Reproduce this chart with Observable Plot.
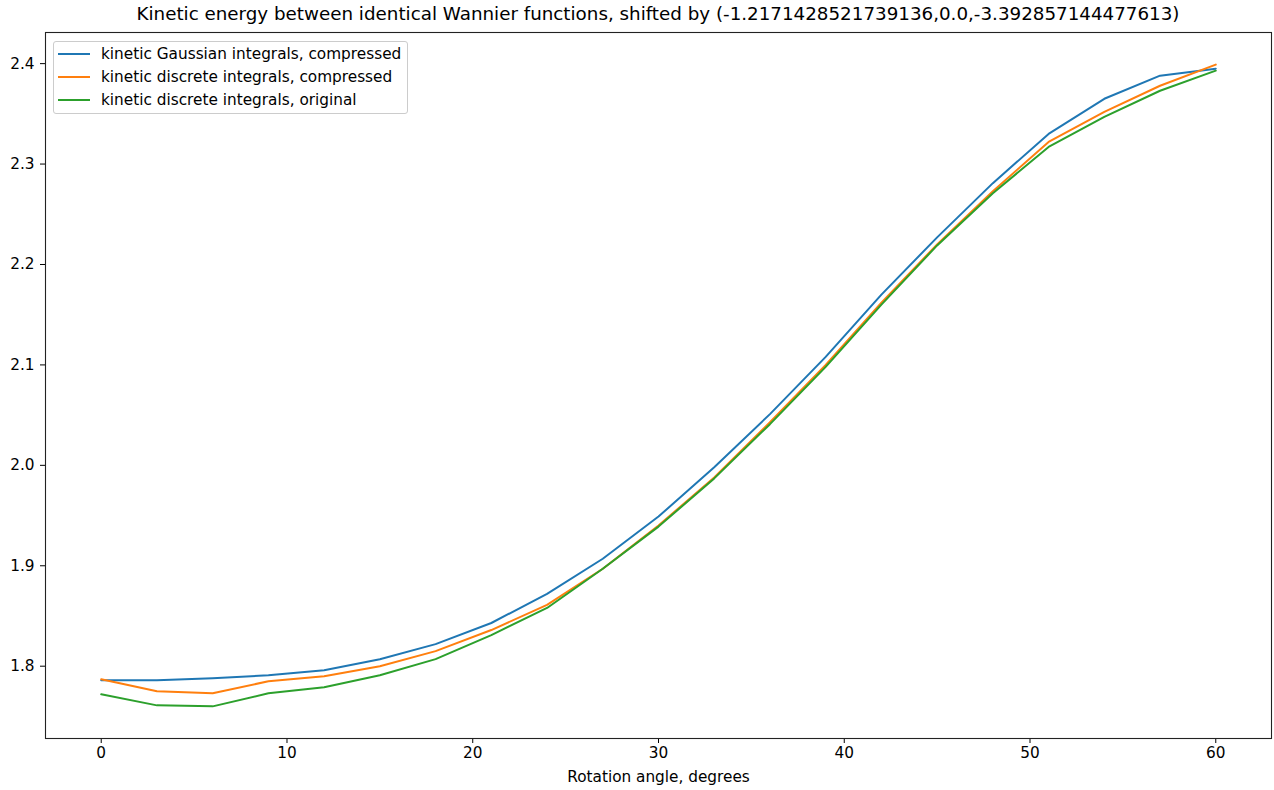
<!DOCTYPE html>
<html><head><meta charset="utf-8">
<script src="https://cdn.jsdelivr.net/npm/d3@7"></script>
<script src="https://cdn.jsdelivr.net/npm/@observablehq/plot@0.6"></script>
<style>
body{margin:0;background:#fff;font-family:"DejaVu Sans",sans-serif}
#wrap{position:relative;width:1274px;height:790px}
#title{position:absolute;top:3px;left:45px;width:1226px;text-align:center;font-size:18.3px;color:#000;white-space:nowrap}
#legend{position:absolute;left:53px;top:41px;border:1px solid #ccc;border-radius:3px;background:rgba(255,255,255,0.8);font-size:15.3px;padding:0 6px 2px 0}
.row{height:23px;display:flex;align-items:center}
.sw{display:inline-block;width:32px;height:2px;margin-left:4px;margin-right:11px}
</style></head>
<body>
<div id="wrap">
<div id="chart"></div>
<div id="title"></div>
<div id="legend"></div>
</div>
<script>
const titleText = "Kinetic energy between identical Wannier functions, shifted by (-1.2171428521739136,0.0,-3.392857144477613)";
const xLabel = "Rotation angle, degrees";
const angles = [0,3,6,9,12,15,18,21,24,27,30,33,36,39,42,45,48,51,54,57,60];
const gaussianCompressed = [1.786,1.786,1.788,1.791,1.796,1.807,1.822,1.843,1.872,1.907,1.949,1.998,2.051,2.108,2.170,2.227,2.281,2.330,2.365,2.388,2.395];
const discreteCompressed = [1.787,1.775,1.773,1.785,1.790,1.800,1.815,1.836,1.861,1.897,1.940,1.988,2.043,2.100,2.162,2.220,2.273,2.322,2.352,2.378,2.399];
const discreteOriginal  = [1.772,1.761,1.760,1.773,1.779,1.791,1.807,1.831,1.858,1.897,1.939,1.987,2.041,2.098,2.160,2.219,2.271,2.317,2.347,2.373,2.393];
const seriesNames = ["kinetic Gaussian integrals, compressed","kinetic discrete integrals, compressed","kinetic discrete integrals, original"];
const seriesColors = ["#1f77b4","#ff7f0e","#2ca02c"];
const xTicks = [0,10,20,30,40,50,60];
const yTicks = [1.8,1.9,2.0,2.1,2.2,2.3,2.4];

const seriesValues = [gaussianCompressed, discreteCompressed, discreteOriginal];
const data = seriesNames.flatMap((name, s) => angles.map((a, i) => ({angle: a, energy: seriesValues[s][i], series: name})));

const plot = Plot.plot({
  width: 1274, height: 790,
  marginLeft: 45, marginRight: 3, marginTop: 32, marginBottom: 52,
  style: {fontFamily: "DejaVu Sans, sans-serif", fontSize: "15.3px", color: "#000", background: "transparent"},
  x: {domain: [-3, 63]},
  y: {domain: [1.728, 2.431]},
  color: {domain: seriesNames, range: seriesColors},
  marks: [
    Plot.axisX({ticks: xTicks, tickSize: 5, tickPadding: 4, label: xLabel, labelAnchor: "center", labelArrow: "none", labelOffset: 43}),
    Plot.axisY({ticks: yTicks, tickSize: 5, tickPadding: 6, tickFormat: d => d.toFixed(1), label: null}),
    Plot.line(data, {x: "angle", y: "energy", stroke: "series", z: "series", strokeWidth: 2}),
    Plot.frame({stroke: "#222", strokeWidth: 1.1})
  ]
});
document.getElementById("chart").appendChild(plot);
document.getElementById("title").textContent = titleText;
const lg = document.getElementById("legend");
seriesNames.forEach((n, i) => {
  const r = document.createElement("div"); r.className = "row";
  const sw = document.createElement("span"); sw.className = "sw"; sw.style.background = seriesColors[i];
  const t = document.createElement("span"); t.textContent = n;
  r.appendChild(sw); r.appendChild(t); lg.appendChild(r);
});
</script>
</body></html>
